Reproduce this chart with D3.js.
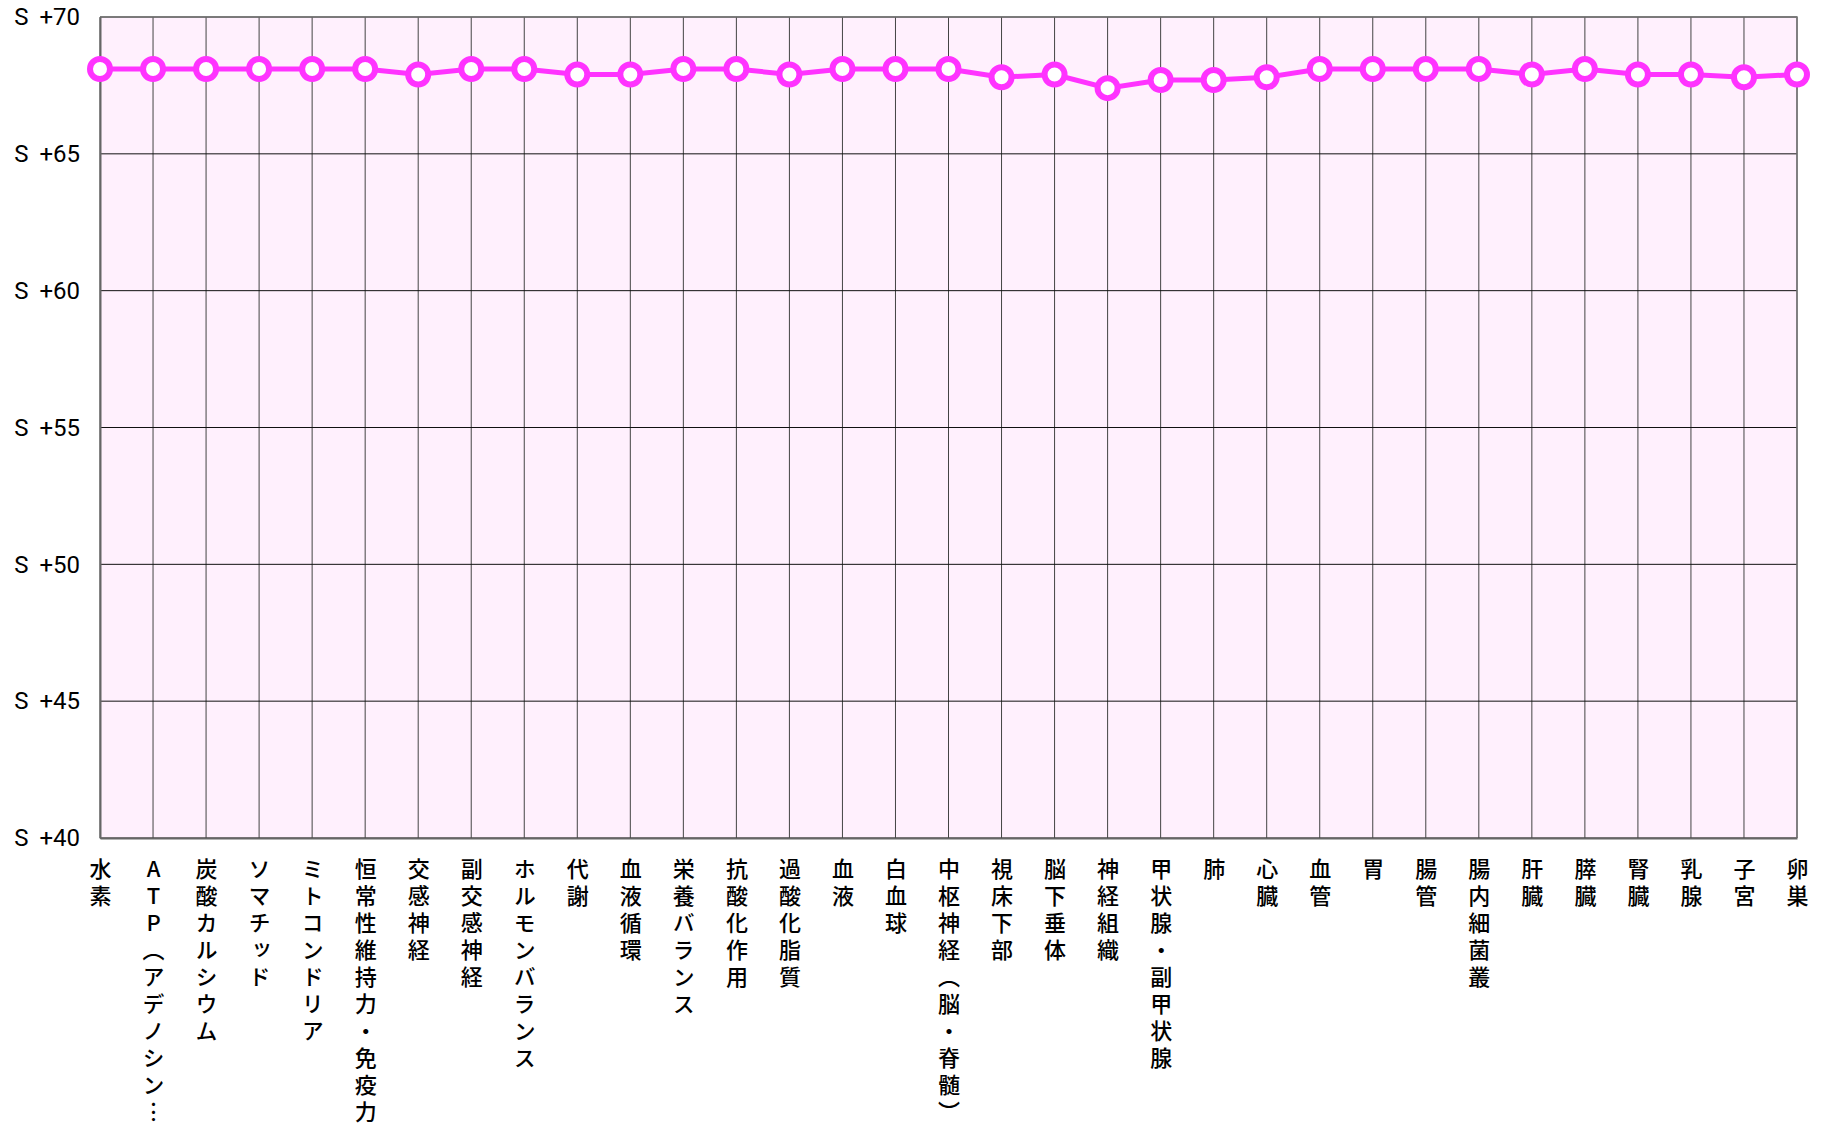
<!DOCTYPE html>
<html>
<head>
<meta charset="utf-8">
<script src="https://cdn.jsdelivr.net/npm/d3@7"></script>
<style>
  body { margin: 0; background: #fff; }
  svg { display: block; }
</style>
</head>
<body>
<svg id="chart"></svg>
<script>
// Categories along the x axis
const categories = [
    '水素', 'ATP（アデノシン…', '炭酸カルシウム', 'ソマチッド', 'ミトコンドリア',
    '恒常性維持力・免疫力', '交感神経', '副交感神経', 'ホルモンバランス', '代謝',
    '血液循環', '栄養バランス', '抗酸化作用', '過酸化脂質', '血液', '白血球',
    '中枢神経（脳・脊髄）', '視床下部', '脳下垂体', '神経組織', '甲状腺・副甲状腺',
    '肺', '心臓', '血管', '胃', '腸管', '腸内細菌叢', '肝臓', '膵臓', '腎臓',
    '乳腺', '子宮', '卵巣'
];

// Values
const values = [
    68.1, 68.1, 68.1, 68.1, 68.1,
    68.1, 67.9, 68.1, 68.1, 67.9,
    67.9, 68.1, 68.1, 67.9, 68.1, 68.1,
    68.1, 67.8, 67.9, 67.4, 67.7,
    67.7, 67.8, 68.1, 68.1, 68.1, 68.1, 67.9, 68.1, 67.9,
    67.9, 67.8, 67.9
];

// Y axis ticks and their labels
const yTicks = [40, 45, 50, 55, 60, 65, 70];
const yTickLabels = ['S +40', 'S +45', 'S +50', 'S +55', 'S +60', 'S +65', 'S +70'];

const data = categories.map((c, i) => ({ category: c, value: values[i] }));

const W = 1822, H = 1133;
const margin = { top: 17, right: 25, bottom: 295, left: 100 };
const width = W - margin.left - margin.right;
const height = H - margin.top - margin.bottom;

const svg = d3.select('#chart')
    .attr('width', W)
    .attr('height', H);

const g = svg.append('g')
    .attr('transform', `translate(${margin.left},${margin.top})`);

// Scales
const xScale = d3.scalePoint()
    .domain(categories)
    .range([0, width]);

const yScale = d3.scaleLinear()
    .domain([40, 70])
    .range([height, 0]);

// Plot background
g.append('rect')
    .attr('width', width)
    .attr('height', height)
    .attr('fill', '#fff0fd');

// Vertical grid lines
g.append('g')
    .selectAll('line')
    .data(categories)
    .enter()
    .append('line')
    .attr('x1', d => xScale(d))
    .attr('x2', d => xScale(d))
    .attr('y1', 0)
    .attr('y2', height)
    .attr('stroke', '#444')
    .attr('stroke-width', 1);

// Horizontal grid lines
g.append('g')
    .selectAll('line')
    .data(yTicks)
    .enter()
    .append('line')
    .attr('x1', 0)
    .attr('x2', width)
    .attr('y1', d => yScale(d))
    .attr('y2', d => yScale(d))
    .attr('stroke', '#111')
    .attr('stroke-width', 1);

// Frame: top and right edges
g.append('path')
    .attr('d', `M0,0H${width}V${height}`)
    .attr('fill', 'none')
    .attr('stroke', '#777')
    .attr('stroke-width', 1.5);

// Y axis
const yAxis = g.append('g')
    .call(d3.axisLeft(yScale)
        .tickValues(yTicks)
        .tickFormat((d, i) => yTickLabels[i])
        .tickSize(0)
        .tickPadding(20));
yAxis.select('.domain')
    .attr('stroke', '#666')
    .attr('stroke-width', 2);
yAxis.selectAll('text')
    .attr('fill', '#000')
    .style('font-family', 'Roboto, "Noto Sans", sans-serif')
    .style('font-size', '24px')
    .style('word-spacing', '5px');

// X axis
const xAxis = g.append('g')
    .attr('transform', `translate(0,${height})`)
    .call(d3.axisBottom(xScale).tickSize(0).tickPadding(0));
xAxis.select('.domain')
    .attr('stroke', '#666')
    .attr('stroke-width', 2);
xAxis.selectAll('text')
    .attr('y', 20)
    .attr('dy', null)
    .attr('fill', '#000')
    .style('font-family', '"Noto Sans CJK JP", sans-serif')
    .style('font-size', '22px')
    .style('font-weight', 500)
    .style('writing-mode', 'vertical-rl')
    .style('text-orientation', 'upright')
    .style('letter-spacing', '5px')
    .attr('text-anchor', 'start');

// Line
const line = d3.line()
    .x(d => xScale(d.category))
    .y(d => yScale(d.value));

g.append('path')
    .datum(data)
    .attr('fill', 'none')
    .attr('stroke', '#ff33ff')
    .attr('stroke-width', 5)
    .attr('d', line);

// Markers
g.selectAll('.dot')
    .data(data)
    .enter()
    .append('circle')
    .attr('class', 'dot')
    .attr('cx', d => xScale(d.category))
    .attr('cy', d => yScale(d.value))
    .attr('r', 10)
    .attr('fill', '#fff')
    .attr('stroke', '#ff33ff')
    .attr('stroke-width', 6);
</script>
</body>
</html>
